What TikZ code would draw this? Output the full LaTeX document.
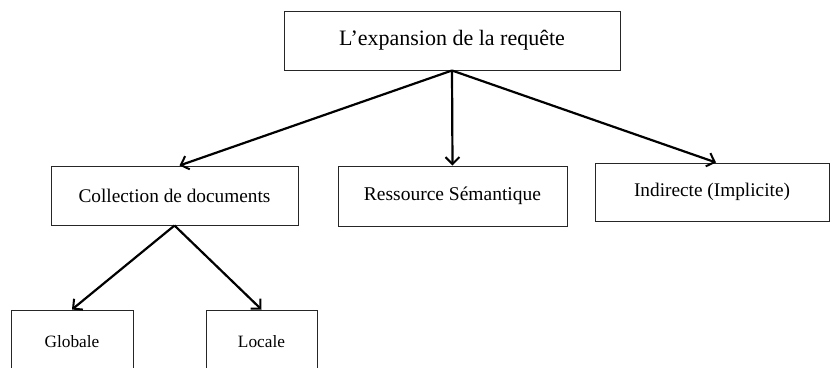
\documentclass[tikz,border=0pt]{standalone}
\usepackage{fontspec}
\setmainfont{Liberation Serif}
\usetikzlibrary{arrows.meta}
\begin{document}
\begin{tikzpicture}[x=1pt,y=-1pt,
  box/.style={draw=black!85, line width=1pt, fill=white, inner sep=0pt, align=center},
  conn/.style={line width=2.2pt, -{Straight Barb[length=7pt,width=14pt,line width=2pt]}}]
\useasboundingbox (0,0) rectangle (830,367);
\clip (0,0) rectangle (830,367);
\node[box, minimum width=336pt, minimum height=59pt, font=\fontsize{22}{26}\selectfont] (top) at (452,40.5) {L’expansion de la requête};
\node[box, minimum width=247pt, minimum height=59pt, font=\fontsize{19.3}{23}\selectfont] (coll) at (174.5,195.5) {Collection de documents};
\node[box, minimum width=229pt, minimum height=60pt, font=\fontsize{19.5}{23}\selectfont] (res) at (452.5,196) {Ressource Sémantique};
\node[box, minimum width=234pt, minimum height=58pt, font=\fontsize{19.3}{23}\selectfont] (ind) at (712,192) {Indirecte (Implicite)};
\node[box, minimum width=122pt, minimum height=64pt, font=\fontsize{17.3}{20}\selectfont] (glob) at (72,342) {Globale};
\node[box, minimum width=111pt, minimum height=64pt, font=\fontsize{17.3}{20}\selectfont] (loc) at (261.5,342) {Locale};
\draw[conn] (top.south) -- ([xshift=5pt]coll.north);
\draw[conn] (top.south) -- (res.north);
\draw[conn] (top.south) -- ([xshift=4pt]ind.north);
\draw[conn] (coll.south) -- (glob.north);
\draw[conn] (coll.south) -- (loc.north);
\end{tikzpicture}
\end{document}
